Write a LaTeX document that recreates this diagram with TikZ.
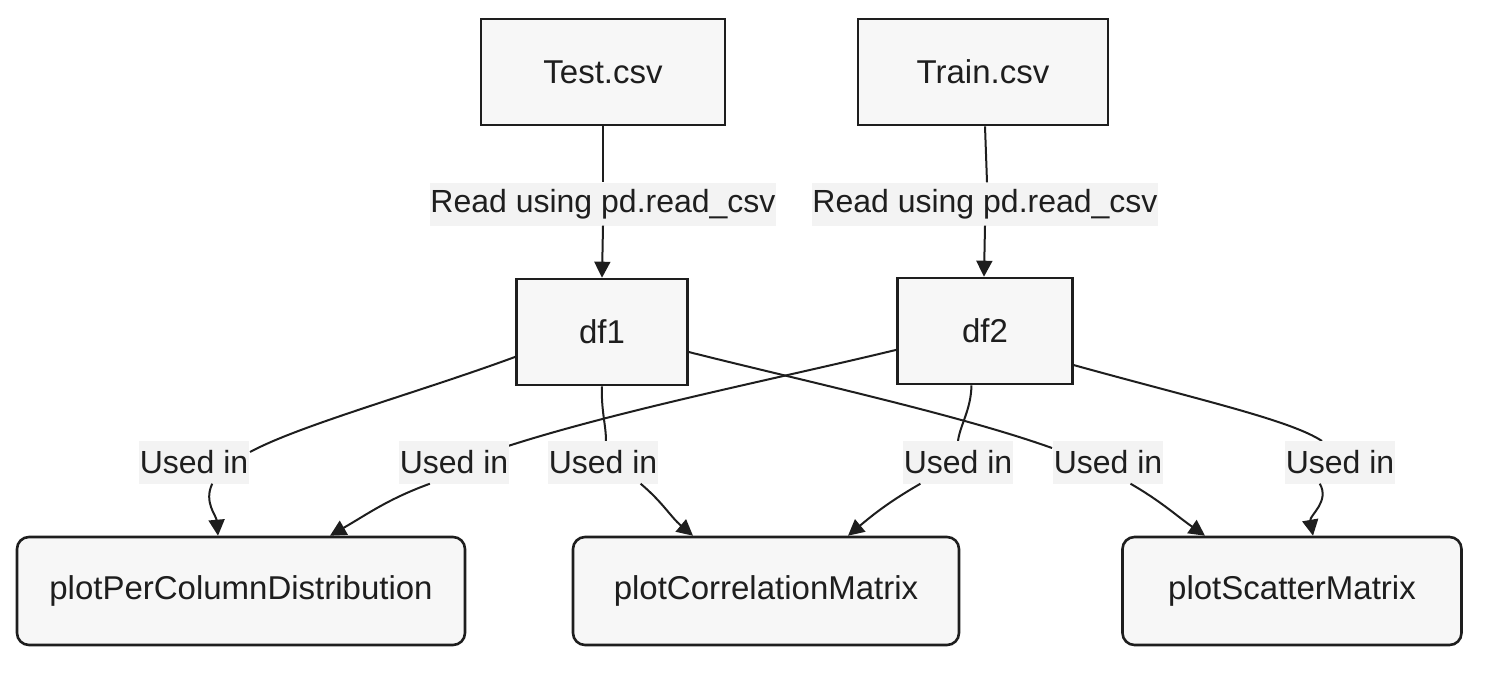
\documentclass[tikz,border=0pt]{standalone}
\usepackage{fontspec}
\setmainfont{Liberation Sans}
\usetikzlibrary{arrows.meta}
\definecolor{ink}{HTML}{1E1E1E}
\definecolor{boxfill}{HTML}{F7F7F7}
\definecolor{lblfill}{HTML}{F3F3F3}
\tikzset{
  databox/.style={draw=ink, line width=2.6pt, fill=boxfill, minimum height=106pt, inner sep=0pt, text=ink, font=\fontsize{33}{38}\selectfont},
  funcbox/.style={databox, rounded corners=12pt, minimum height=108pt},
  lbl/.style={fill=lblfill, inner xsep=0.5pt, inner ysep=0pt, minimum height=43pt, text=ink, font=\fontsize{32}{36}\selectfont},
  conn/.style={draw=ink, line width=2pt},
  arr/.style={conn, -{Triangle[length=16pt,width=16pt]}},
}
\begin{document}
\begin{tikzpicture}[x=1pt,y=-1pt]
\useasboundingbox (0,0) rectangle (1496,672);
% data files
\node[databox, minimum width=244pt] (test) at (603,72) {Test.csv};
\node[databox, minimum width=250pt] (train) at (983,72) {Train.csv};
% dataframes
\node[databox, minimum width=171pt] (df1) at (602,332) {df1};
\node[databox, minimum width=175pt] (df2) at (985,331) {df2};
% functions
\node[funcbox, minimum width=448pt] (P) at (241,591) {plotPerColumnDistribution};
\node[funcbox, minimum width=386pt] (C) at (766,591) {plotCorrelationMatrix};
\node[funcbox, minimum width=339pt] (S) at (1292,591) {plotScatterMatrix};
% read edges
\node[lbl] (r1) at (603,204) {Read using pd.read\_csv};
\node[lbl] (r2) at (985,204) {Read using pd.read\_csv};
\draw[conn] (test.south) -- (r1.north);
\draw[arr] (r1.south) -- (df1.north);
\draw[conn] ([xshift=2pt]train.south) -- ([xshift=2pt]r2.north);
\draw[arr] (r2.south) -- ([xshift=-1pt]df2.north);
% used-in edges: lines first
\draw[conn] (df1.196) .. controls (420,392) and (300,425) .. (250,452);
\draw[conn] (df2.192) .. controls (780,378) and (620,410) .. (508,446);
\draw[conn] (df1.south) .. controls (601,410) and (606,425) .. (606,441);
\draw[conn] (df2.256) .. controls (971,410) and (960,425) .. (958,441);
\draw[conn] (df1.-13) .. controls (800,380) and (960,415) .. (1052,448);
\draw[conn] (df2.-21) .. controls (1200,400) and (1290,420) .. (1322,441);
% labels on top
\node[lbl] (u1) at (194,462) {Used in};
\node[lbl] (u2) at (454,462) {Used in};
\node[lbl] (u3) at (603,462) {Used in};
\node[lbl] (u4) at (958,462) {Used in};
\node[lbl] (u5) at (1108,462) {Used in};
\node[lbl] (u6) at (1340,462) {Used in};
% arrows into functions
\draw[arr] (u1.-50) to[out=-115,in=95] ([xshift=-23pt]P.north);
\draw[arr] (u2.-138) to[out=-160,in=30] ([xshift=89pt]P.north);
\draw[arr] (u3.-30) to[out=-40,in=140] ([xshift=-73pt]C.north);
\draw[arr] (u4.-150) to[out=-150,in=40] ([xshift=82pt]C.north);
\draw[arr] (u5.-44) to[out=-30,in=145] ([xshift=-87pt]S.north);
\draw[arr] (u6.-133) to[out=-60,in=100] ([xshift=21pt]S.north);
\end{tikzpicture}
\end{document}
